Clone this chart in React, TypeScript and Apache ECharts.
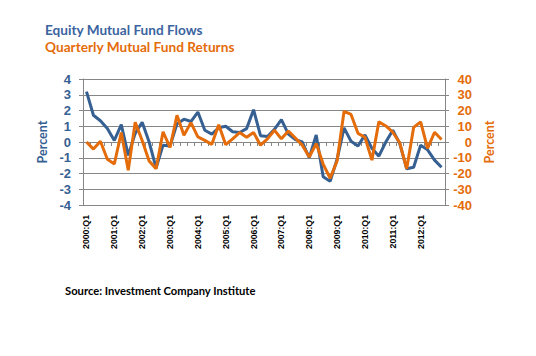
import React, { useEffect, useRef } from "react";
import * as echarts from "echarts";

const years = [2000, 2001, 2002, 2003, 2004, 2005, 2006, 2007, 2008, 2009, 2010, 2011, 2012];
const quarters = ["Q1", "Q2", "Q3", "Q4"];
const categories: string[] = [];
years.forEach((y) => quarters.forEach((q) => categories.push(`${y}:${q}`)));

// Equity mutual fund flows, percent (left axis)
const fundFlows = [
  3.2, 1.7, 1.35, 0.85, 0.1, 1.1, -0.85, 0.55, 1.25, 0.0, -1.65, -0.2, -0.25,
  1.15, 1.45, 1.3, 1.9, 0.75, 0.5, 0.9, 1.0, 0.65, 0.6, 0.85, 2.05, 0.4,
  0.35, 0.8, 1.42, 0.5, 0.15, 0.0, -1.0, 0.45, -2.2, -2.5, -1.1, 0.9, 0.05,
  -0.25, 0.45, -0.4, -0.9, 0.0, 0.75, -0.1, -1.7, -1.6, -0.2, -0.5, -1.15, -1.6,
];

// Quarterly mutual fund returns, percent (right axis)
const fundReturns = [
  0, -4.5, 0.5, -11, -14, 6, -18, 12.5, 1, -12, -17, 6.5, -3.5,
  17, 4.3, 12.3, 3.2, 1, -1.5, 11, -1.7, 2, 6, 3, 6, -2,
  2, 7.5, 2, 7, 2.5, -2, -9.5, -1, -14, -23, -12, 19.5, 17.5,
  5.5, 3, -11.5, 12.8, 10.2, 6.2, -0.5, -17, 9.3, 12.8, -4, 6.2, 1.6,
];

const leftTicks = { min: -4, max: 4, interval: 1 };
const rightTicks = { min: -40, max: 40, interval: 10 };

const TITLE_1 = "Equity Mutual Fund Flows";
const TITLE_2 = "Quarterly Mutual Fund Returns";
const SOURCE = "Source: Investment Company Institute";

const BLUE = "#376092";
const BLUE_TEXT = "#3B64A0";
const ORANGE = "#E46C0A";
const GRID = "#868686";
const FONT = "'Liberation Sans', Arial, sans-serif";
const TFONT = "Lato, sans-serif";

function fitSize(text: string, family: string, target: number, maxSize: number) {
  const c = document.createElement("canvas").getContext("2d");
  if (!c) return maxSize;
  c.font = `bold 100px ${family}`;
  const w = c.measureText(text).width;
  if (!w) return maxSize;
  return Math.min(maxSize, (100 * target) / w);
}

export default function App() {
  const ref = useRef<HTMLDivElement>(null);
  useEffect(() => {
    if (!ref.current) return;
    const t1 = fitSize(TITLE_1, TFONT, 158, 16);
    const t2 = fitSize(TITLE_2, TFONT, 190, 16);
    const src = fitSize(SOURCE, TFONT, 191, 13);
    const xl = fitSize("2000:Q1", FONT, 34, 11);
    const chart = echarts.init(ref.current, undefined, { renderer: "svg" });
    chart.setOption({
      animation: false,
      backgroundColor: "#ffffff",
      title: [
        {
          text: TITLE_1,
          left: 45,
          top: 23,
          padding: 0,
          textStyle: { color: BLUE_TEXT, fontSize: t1, fontWeight: "bold", fontFamily: TFONT },
        },
        {
          text: TITLE_2,
          left: 45,
          top: 40,
          padding: 0,
          textStyle: { color: ORANGE, fontSize: t2, fontWeight: "bold", fontFamily: TFONT },
        },
        {
          text: SOURCE,
          left: 65,
          top: 285,
          padding: 0,
          textStyle: { color: "#000000", fontSize: src, fontWeight: "bold", fontFamily: TFONT },
        },
      ],
      grid: { left: 83, top: 79, width: 362, height: 126, containLabel: false },
      xAxis: [
        {
          type: "category",
          data: categories,
          boundaryGap: true,
          axisLine: { onZero: true, lineStyle: { color: GRID, width: 1 } },
          axisTick: { show: true, interval: 0, length: 4, lineStyle: { color: GRID } },
          axisLabel: { show: false },
          splitLine: { show: false },
        },
        {
          type: "category",
          data: categories,
          boundaryGap: true,
          position: "bottom",
          axisLine: { show: false, onZero: false },
          axisTick: { show: false },
          splitLine: { show: false },
          axisLabel: {
            interval: 3,
            rotate: 90,
            margin: 10,
            color: "#000000",
            fontWeight: "bold",
            fontSize: xl,
            fontFamily: FONT,
          },
        },
      ],
      yAxis: [
        {
          type: "value",
          position: "left",
          ...leftTicks,
          name: "Percent",
          nameLocation: "middle",
          nameRotate: 90,
          nameGap: 29,
          nameTextStyle: { color: BLUE, fontSize: 12.5, fontWeight: "bold", fontFamily: TFONT },
          axisLine: { show: true, lineStyle: { color: GRID } },
          axisTick: { show: true, length: 4, lineStyle: { color: GRID } },
          splitLine: { show: true, lineStyle: { color: GRID, width: 1 } },
          axisLabel: { color: BLUE, fontWeight: "bold", fontSize: 13, margin: 12, fontFamily: FONT },
        },
        {
          type: "value",
          position: "right",
          ...rightTicks,
          name: "Percent",
          nameLocation: "middle",
          nameRotate: 90,
          nameGap: 38,
          nameTextStyle: { color: ORANGE, fontSize: 12.5, fontWeight: "bold", fontFamily: TFONT },
          axisLine: { show: true, lineStyle: { color: GRID } },
          axisTick: { show: true, length: 4, lineStyle: { color: GRID } },
          splitLine: { show: false },
          axisLabel: { color: ORANGE, fontWeight: "bold", fontSize: 13, margin: 27, align: "right", fontFamily: FONT },
        },
      ],
      series: [
        {
          name: TITLE_1,
          type: "line",
          xAxisIndex: 0,
          yAxisIndex: 0,
          data: fundFlows,
          showSymbol: false,
          symbol: "none",
          lineStyle: { color: BLUE, width: 3 },
          itemStyle: { color: BLUE },
        },
        {
          name: TITLE_2,
          type: "line",
          xAxisIndex: 0,
          yAxisIndex: 1,
          data: fundReturns,
          showSymbol: false,
          symbol: "none",
          lineStyle: { color: ORANGE, width: 3 },
          itemStyle: { color: ORANGE },
        },
      ],
    });
    return () => chart.dispose();
  }, []);
  return (
    <div
      ref={ref}
      style={{ position: "fixed", left: 0, top: 0, width: 536, height: 356 }}
    />
  );
}
